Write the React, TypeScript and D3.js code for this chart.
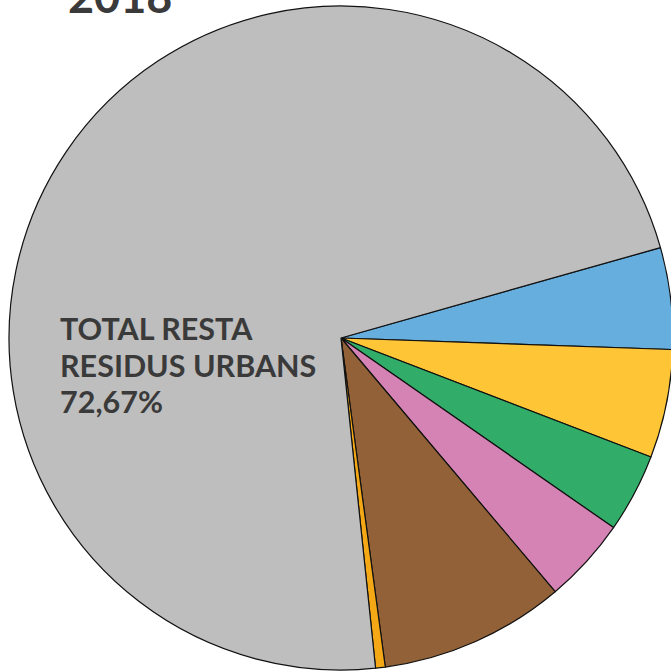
import React, { useEffect, useRef } from 'react'
import * as d3 from 'd3'

// shares in % (gray one from its label)
const categories = ['blau', 'groc', 'verd', 'rosa', 'marro', 'taronja', 'resta']
const values = [4.97, 5.31, 3.86, 4.19, 9.08, 0.47, 72.67]
const colors = ['#65aede', '#fec536', '#31ad69', '#d583b5', '#926137', '#f5a815', '#bebebe']
const labelLines = ['TOTAL RESTA', 'RESIDUS URBANS', '72,67%']
const title = '2018'

const App: React.FC = () => {
  const svgRef = useRef<SVGSVGElement>(null)

  useEffect(() => {
    if (!svgRef.current) return
    const svg = d3.select(svgRef.current)
    svg.selectAll('*').remove()

    const width = 671
    const height = 671
    const cx = 341
    const cy = 338
    const radius = 332

    const data = categories.map((c, i) => ({ cat: c, value: values[i], color: colors[i] }))

    const pie = d3.pie<typeof data[number]>()
      .value(d => d.value)
      .sort(null)
      .startAngle((74.2 * Math.PI) / 180)
      .endAngle((74.2 * Math.PI) / 180 + Math.PI * 2)

    const arc = d3.arc<d3.PieArcDatum<typeof data[number]>>()
      .innerRadius(0)
      .outerRadius(radius)

    svg.attr('width', width).attr('height', height)

    const g = svg.append('g').attr('transform', `translate(${cx}, ${cy})`)

    g.selectAll('path')
      .data(pie(data))
      .enter()
      .append('path')
      .attr('d', arc)
      .attr('fill', d => d.data.color)
      .attr('stroke', '#111')
      .attr('stroke-width', 1.2)
      .attr('stroke-linejoin', 'round')

    // label inside the big slice
    const label = svg.append('text')
      .attr('x', 60)
      .attr('y', 340)
      .style('font-family', 'Lato, sans-serif')
      .style('font-weight', 'bold')
      .style('font-size', '30.5px')
      .style('fill', '#3a3a3a')

    labelLines.forEach((t, i) => {
      label.append('tspan')
        .attr('x', 60)
        .attr('dy', i === 0 ? 0 : 36.5)
        .text(t)
    })

    svg.append('text')
      .attr('x', 68)
      .attr('y', 13)
      .style('font-family', 'Lato, sans-serif')
      .style('font-weight', 'bold')
      .style('font-size', '45px')
      .style('fill', '#3a3a3a')
      .text(title)
  }, [])

  return (
    <svg
      ref={svgRef}
      style={{ position: 'absolute', left: 0, top: 0, background: '#fff' }}
    />
  )
}

export default App
